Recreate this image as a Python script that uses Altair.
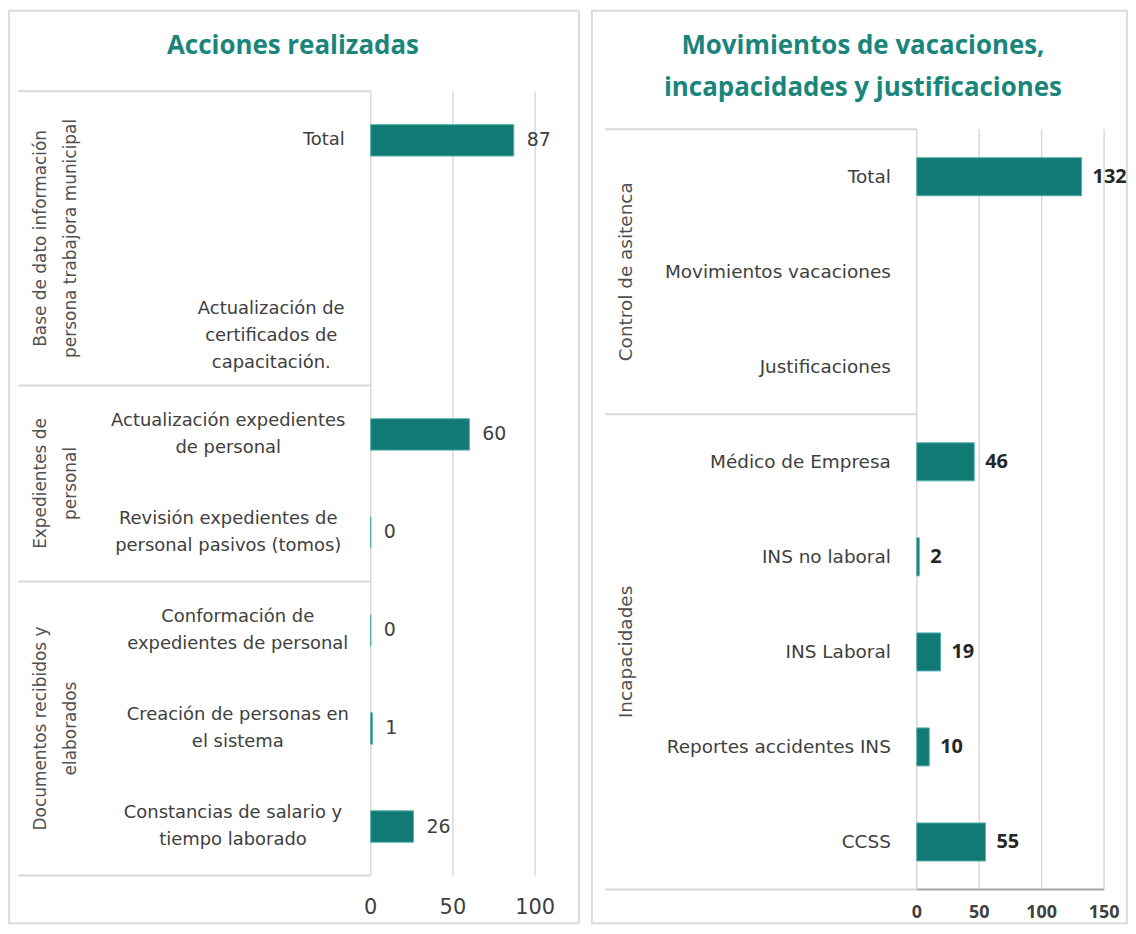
import altair as alt
import pandas as pd

# ---------------- data ----------------
left_title = "Acciones realizadas"
left_labels = [
    "Total",
    "",
    "Actualización de\ncertificados de\ncapacitación.",
    "Actualización expedientes\nde personal",
    "Revisión expedientes de\npersonal pasivos  (tomos)",
    "Conformación de\nexpedientes de personal",
    "Creación de personas en\nel sistema",
    "Constancias de salario y\ntiempo laborado",
]
left_values = [87, None, None, 60, 0, 0, 1, 26]
left_groups = [
    "Base de dato información\npersona trabajora municipal",
    "Expedientes de\npersonal",
    "Documentos recibidos y\nelaborados",
]
left_group_sizes = [3, 2, 3]
left_ticks = [0, 50, 100]

right_title = "Movimientos de vacaciones,\nincapacidades y justificaciones"
right_labels = [
    "Total",
    "Movimientos vacaciones",
    "Justificaciones",
    "Médico de Empresa",
    "INS no laboral",
    "INS Laboral",
    "Reportes accidentes INS",
    "CCSS",
]
right_values = [132, None, None, 46, 2, 19, 10, 55]
right_groups = ["Control de asitenca", "Incapacidades"]
right_group_sizes = [3, 5]
right_ticks = [0, 50, 100, 150]

BAR = "#127a74"
TEAL = "#1a857b"
TXT = "#404040"
LINE = "#d9d9d9"


def make_panel(title, labels, values, groups, sizes, ticks, p):
    n = len(labels)
    rows = pd.DataFrame({
        "row": list(range(n)),
        "label": labels,
        "value": values,
        "maxlen": [max(len(s) for s in l.split("\n")) for l in labels],
        "nlines": [len(l.split("\n")) for l in labels],
    })
    bounds = [0]
    for s in sizes:
        bounds.append(bounds[-1] + s)
    gdf = pd.DataFrame({"g": groups, "start": bounds[:-1], "end": bounds[1:]})
    bdf = pd.DataFrame({"b": bounds})
    tdf = pd.DataFrame({"t": ticks})

    xs = alt.Scale(domain=[0, ticks[-1]], range=p["xrange"], nice=False)
    ys = alt.Scale(domain=[0, n], range=p["yrange"], nice=False, zero=False)
    step = (p["yrange"][1] - p["yrange"][0]) / n

    base = alt.Chart(rows)

    bars = base.transform_filter("isValid(datum.value)").transform_calculate(
        x0="0",
        y0=f"datum.row + 0.5 - {p['bh'] / 2}",
        y1=f"datum.row + 0.5 + {p['bh'] / 2}",
    ).mark_rect(color=BAR, stroke=p["bstroke"], strokeWidth=1).encode(
        x=alt.X("x0:Q", scale=xs, axis=None),
        x2="value:Q",
        y=alt.Y("y0:Q", scale=ys, axis=None),
        y2="y1:Q",
    )

    vlabels = base.transform_filter("isValid(datum.value)").transform_calculate(
        yc="datum.row + 0.5"
    ).mark_text(
        align="left", baseline="middle", dx=p["vdx"], font=p["vfont"],
        fontSize=p["vsize"], fontWeight=p["vweight"], color=p["vcolor"],
    ).encode(
        x=alt.X("value:Q", scale=xs, axis=None),
        y=alt.Y("yc:Q", scale=ys, axis=None),
        text="value:Q",
    )

    if p["lalign"] == "center":
        lx_expr = f"{p['lright']} - datum.maxlen * {p['halfchar']}"
    else:
        lx_expr = f"{p['lright']}"
    clabels = base.transform_calculate(
        yc=f"datum.row + 0.5 - (datum.nlines - 1) * {p['llh'] / 2 / step}",
        lx=lx_expr,
    ).mark_text(
        align=p["lalign"], baseline="middle", font="DejaVu Sans",
        fontSize=p["lsize"], color=TXT, lineBreak="\n", lineHeight=p["llh"],
    ).encode(
        x=alt.X("lx:Q", scale=None),
        y=alt.Y("yc:Q", scale=ys, axis=None),
        text="label:N",
    )

    glabels = alt.Chart(gdf).transform_calculate(
        ym="(datum.start + datum.end) / 2"
    ).mark_text(
        align="center", baseline="middle", angle=270, font="DejaVu Sans",
        fontSize=p["gsize"], color="#505050", lineBreak="\n", lineHeight=p["glh"],
    ).encode(
        x=alt.value(p["gx"]),
        y=alt.Y("ym:Q", scale=ys, axis=None),
        text="g:N",
    )

    seps = alt.Chart(bdf).mark_rule(color=LINE, strokeWidth=2).encode(
        x=alt.value(p["sepx"]),
        x2=alt.value(p["xrange"][0]),
        y=alt.Y("b:Q", scale=ys, axis=None),
    )

    grid = alt.Chart(tdf).transform_calculate(y0="0", y1=str(n)).mark_rule(
        color=LINE, strokeWidth=1.5
    ).encode(
        x=alt.X("t:Q", scale=xs, axis=None),
        y=alt.Y("y0:Q", scale=ys, axis=None),
        y2="y1:Q",
    )

    tlabels = alt.Chart(tdf).mark_text(
        align="center", baseline="middle", font=p["tfont"], fontSize=p["tsize"],
        fontWeight=p["tweight"], color=TXT,
    ).encode(
        x=alt.X("t:Q", scale=xs, axis=None),
        y=alt.value(p["ty"]),
        text="t:Q",
    )

    ttl = alt.Chart(pd.DataFrame({"title": [title]})).mark_text(
        align="center", baseline="middle", font="Open Sans", fontSize=26,
        fontWeight="bold", color=TEAL, lineBreak="\n", lineHeight=42,
    ).encode(
        x=alt.value(p["titlex"]),
        y=alt.value(p["titley"]),
        text="title:N",
    )

    layers = [grid, seps, bars, vlabels, clabels, glabels, tlabels, ttl]

    if p.get("axisline"):
        axl = alt.Chart(pd.DataFrame({"a": [0], "b": [ticks[-1]], "y": [n]})).mark_rule(
            color="#a6a6a6", strokeWidth=2
        ).encode(
            x=alt.X("a:Q", scale=xs, axis=None),
            x2="b:Q",
            y=alt.Y("y:Q", scale=ys, axis=None),
        )
        layers.insert(2, axl)

    return alt.layer(*layers).properties(width=p["w"], height=p["h"])


left_p = dict(
    w=572, h=916, xrange=[363, 528], yrange=[81, 868], bh=0.32, bstroke="#4fb0aa",
    vdx=13, vfont="DejaVu Sans", vsize=19, vweight="normal", vcolor=TXT,
    lalign="center", lright=340, halfchar=4.8, lsize=18, llh=27,
    gx=32, gsize=17, glh=30, sepx=9,
    tfont="DejaVu Sans", tsize=21, tweight="normal", ty=901,
    titlex=285, titley=36,
)
right_p = dict(
    w=537, h=916, xrange=[326, 514], yrange=[119, 882], bh=0.4, bstroke="#4fb0aa",
    vdx=11, vfont="Open Sans", vsize=20, vweight="bold", vcolor="#262626",
    lalign="right", lright=300, halfchar=5.2, lsize=18.5, llh=27,
    gx=34, gsize=18.5, glh=30, sepx=13,
    tfont="Open Sans", tsize=18, tweight="bold", ty=906,
    titlex=272, titley=36, axisline=True,
)

left = make_panel(left_title, left_labels, left_values, left_groups,
                  left_group_sizes, left_ticks, left_p)
right = make_panel(right_title, right_labels, right_values, right_groups,
                   right_group_sizes, right_ticks, right_p)

chart = alt.hconcat(left, right, spacing=11).properties(
    padding=0, background="white"
).configure_view(stroke="#dcdcdc", strokeWidth=2)

chart.save("out.html", embed_options={"renderer": "svg", "actions": False})
